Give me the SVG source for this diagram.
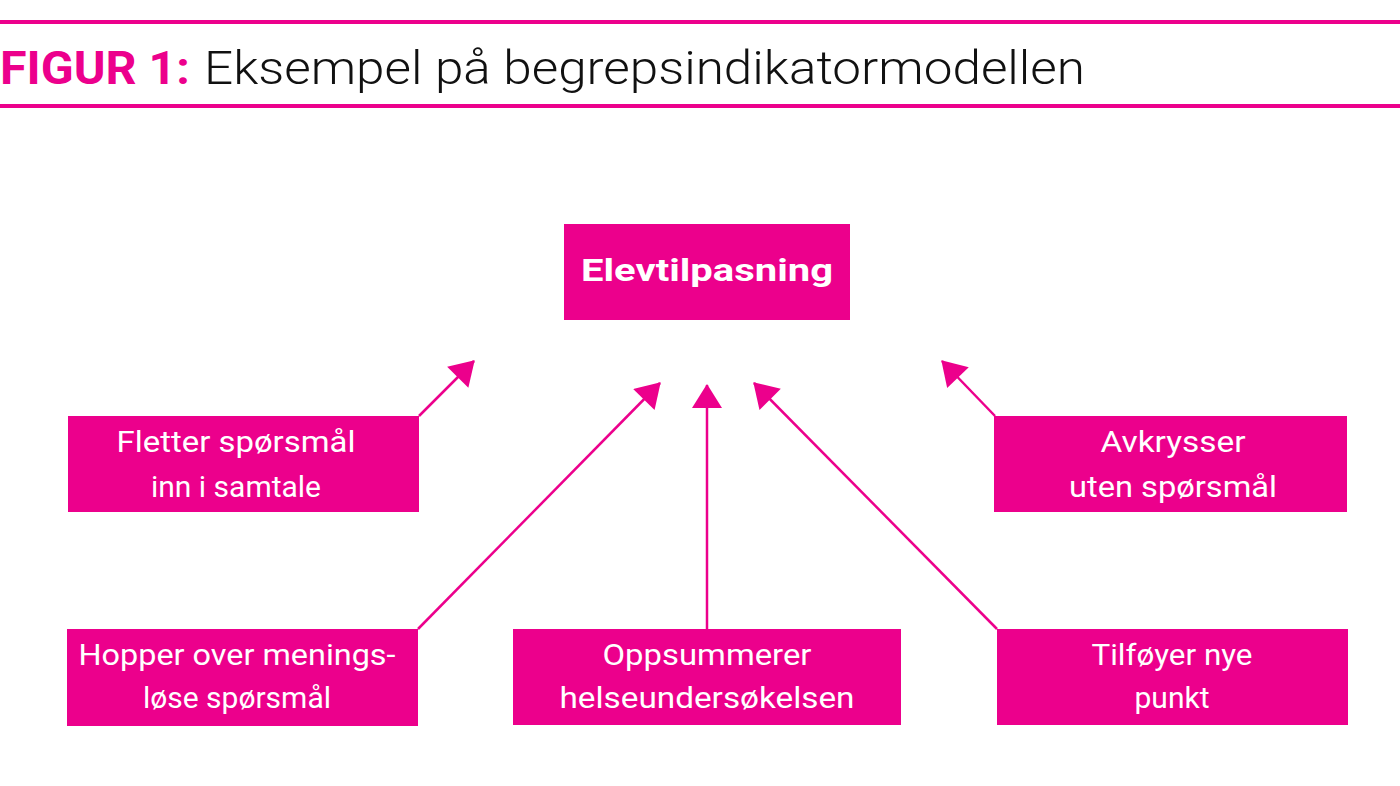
<svg xmlns="http://www.w3.org/2000/svg" width="1400" height="786" viewBox="0 0 1400 786">
<style>
.box{fill:#EC008C}
.t{font-family:Roboto,"Liberation Sans",sans-serif;font-size:30px;fill:#fff;text-anchor:middle}
.b{font-weight:bold;font-size:32px}
.c{stroke:#EC008C;stroke-width:2.5;fill:none}
</style>
<defs>
<marker id="ah" markerUnits="userSpaceOnUse" markerWidth="30" markerHeight="30" viewBox="0 0 24 30" refX="23" refY="15" orient="auto">
<path d="M0,0 L24,15 L0,30 Z" fill="#EC008C"/>
</marker>
</defs>
<rect x="0" y="20" width="1400" height="4" fill="#EC008C"/>
<rect x="0" y="104" width="1400" height="4" fill="#EC008C"/>
<text x="0" y="84" font-family="Roboto,'Liberation Sans',sans-serif" font-size="46" font-weight="bold" fill="#EC008C" textLength="190" lengthAdjust="spacingAndGlyphs">FIGUR 1:</text>
<text x="204" y="84" font-family="Roboto,'Liberation Sans',sans-serif" font-size="46" font-weight="300" fill="#111" textLength="881" lengthAdjust="spacingAndGlyphs">Eksempel på begrepsindikatormodellen</text>
<g id="connectors">
<line class="c" x1="419" y1="416" x2="474" y2="361" marker-end="url(#ah)"/>
<line class="c" x1="418" y1="629" x2="660" y2="383" marker-end="url(#ah)"/>
<line class="c" x1="707" y1="629" x2="707" y2="385" marker-end="url(#ah)"/>
<line class="c" x1="997" y1="629" x2="754" y2="383" marker-end="url(#ah)"/>
<line class="c" x1="995" y1="416" x2="942" y2="361" marker-end="url(#ah)"/>
</g>
<g id="elevtilpasning">
<rect class="box" x="564" y="224" width="286" height="96"/>
<text class="t b" x="707" y="281" textLength="252" lengthAdjust="spacingAndGlyphs">Elevtilpasning</text>
</g>
<g id="fletter">
<rect class="box" x="68" y="416" width="351" height="96"/>
<text class="t" x="236" y="452" textLength="239" lengthAdjust="spacingAndGlyphs">Fletter spørsmål</text>
<text class="t" x="236" y="497">inn i samtale</text>
</g>
<g id="avkrysser">
<rect class="box" x="994" y="416" width="353" height="96"/>
<text class="t" x="1173" y="452" textLength="145" lengthAdjust="spacingAndGlyphs">Avkrysser</text>
<text class="t" x="1173" y="497" textLength="208" lengthAdjust="spacingAndGlyphs">uten spørsmål</text>
</g>
<g id="hopper">
<rect class="box" x="67" y="629" width="351" height="97"/>
<text class="t" x="237" y="665" textLength="317" lengthAdjust="spacingAndGlyphs">Hopper over menings-</text>
<text class="t" x="237" y="708">løse spørsmål</text>
</g>
<g id="oppsummerer">
<rect class="box" x="513" y="629" width="388" height="96"/>
<text class="t" x="707" y="665" textLength="209" lengthAdjust="spacingAndGlyphs">Oppsummerer</text>
<text class="t" x="707" y="708" textLength="295" lengthAdjust="spacingAndGlyphs">helseundersøkelsen</text>
</g>
<g id="tilfoyer">
<rect class="box" x="997" y="629" width="351" height="96"/>
<text class="t" x="1172" y="665" textLength="161" lengthAdjust="spacingAndGlyphs">Tilføyer nye</text>
<text class="t" x="1172" y="708">punkt</text>
</g>
</svg>
